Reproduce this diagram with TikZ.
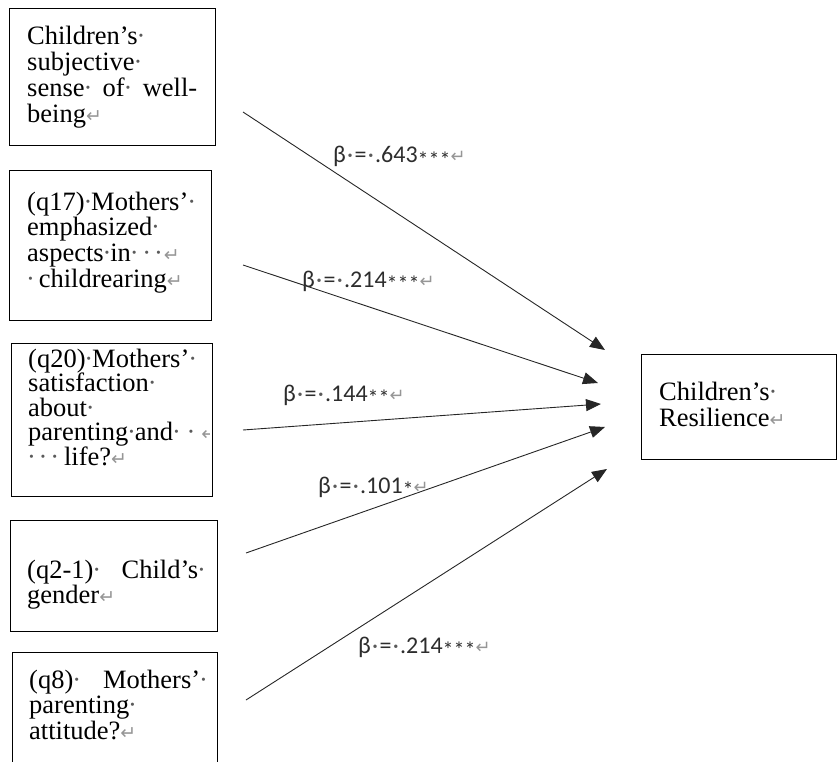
\documentclass[tikz,border=0pt]{standalone}
\usepackage{fontspec}
\setmainfont{Liberation Serif}
\newfontfamily\labelfont{Carlito}
\newfontfamily\symfont{DejaVu Sans}
\usetikzlibrary{arrows.meta}

\definecolor{markgray}{RGB}{150,150,150}
\definecolor{dotgray}{RGB}{90,90,90}
\definecolor{labelink}{RGB}{45,45,45}

% visible space and paragraph marks
\newcommand\wsp{\makebox[0.25em]{\textcolor{dotgray}{·}}}
\newcommand\pmark{\textcolor{markgray}{\symfont\fontsize{19}{19}\selectfont ↵}}
\newcommand\lsp{\makebox[0.36em]{\textcolor{dotgray}{·}}}
\newcommand\lpmark{\textcolor{markgray}{\symfont\fontsize{18}{18}\selectfont ↵}}
\newcommand\sigstars[1]{\raisebox{-4.5pt}{\fontsize{22}{22}\selectfont #1}}

\newcommand\boxtext[2]{\parbox[t]{260pt}{\fontsize{26.5}{#1}\selectfont #2}}

\begin{document}
\begin{tikzpicture}[x=1pt,y=-1pt,
  varbox/.style={draw=black, line width=1.4pt, rectangle, anchor=north west, inner sep=0pt},
  boxtxt/.style={anchor=base west, inner sep=0pt},
  beta/.style={anchor=base west, inner sep=0pt, text=labelink, font=\labelfont\fontsize{24}{24}\selectfont},
  path/.style={-{Triangle[length=15pt,width=12pt]}, line width=0.9pt, draw=black!85}]

\useasboundingbox (0,0) rectangle (837,762);
\clip (0,0) rectangle (837,762);

% predictor boxes
\node[varbox, minimum width=206pt, minimum height=137pt] (b1) at (9,8) {};
\node[varbox, minimum width=202pt, minimum height=150pt] (b2) at (9,170) {};
\node[varbox, minimum width=201pt, minimum height=153pt] (b3) at (11,343) {};
\node[varbox, minimum width=207pt, minimum height=111pt] (b4) at (10,520) {};
\node[varbox, minimum width=205pt, minimum height=130pt] (b5) at (12,652) {};

% outcome box
\node[varbox, minimum width=195pt, minimum height=105pt] (out) at (641,354) {};

% box texts
\node[boxtxt] (t1) at (27,45) {\boxtext{25.7}{%
Children’s\wsp\\
subjective\wsp\\
\makebox[170pt][l]{sense\wsp\hfill of\wsp\hfill well-}\\
being\pmark}};

\node[boxtxt] (t2) at (27,210) {\boxtext{25.7}{%
(q17)\wsp Mothers’\wsp\\
emphasized\wsp\\
aspects\wsp in\wsp\hspace{6pt}\wsp\hspace{5pt}\wsp\hspace{2pt}\pmark\\
\hspace{2pt}\wsp\hspace{5pt}childrearing\pmark}};

\begin{scope}
\clip (11,343) rectangle (209,496);
\node[boxtxt] (t3) at (28,367) {\boxtext{24.6}{%
(q20)\wsp Mothers’\wsp\\
satisfaction\wsp\\
about\wsp\\
parenting\wsp and\wsp\hspace{8pt}\wsp\hspace{7pt}\pmark\\
\hspace{2pt}\wsp\hspace{5pt}\wsp\hspace{5pt}\wsp\hspace{6pt}life?\pmark}};
\end{scope}

\node[boxtxt] (t4) at (27,578) {\boxtext{25.5}{%
\makebox[171pt][l]{(q2-1)\wsp\hfill Child’s}\wsp\\
gender\pmark}};

\node[boxtxt] (t5) at (29,688) {\boxtext{25.5}{%
\makebox[171pt][l]{(q8)\wsp\hfill Mothers’}\wsp\\
parenting\wsp\\
attitude?\pmark}};

\node[boxtxt] (tout) at (659,400) {\boxtext{26.7}{%
Children’s\wsp\\
Resilience\pmark}};

% path ends
\coordinate (s1) at (243,112);
\coordinate (s2) at (243,265);
\coordinate (s3) at (243,430);
\coordinate (s4) at (246,553);
\coordinate (s5) at (246,700);
\coordinate (e1) at (605,350);
\coordinate (e2) at (598,383);
\coordinate (e3) at (601,404);
\coordinate (e4) at (605,427);
\coordinate (e5) at (607,469);

\draw[path] (s1) -- (e1);
\draw[path] (s2) -- (e2);
\draw[path] (s3) -- (e3);
\draw[path] (s4) -- (e4);
\draw[path] (s5) -- (e5);

% standardized coefficients
\node[beta] (l1) at (333,163) {β\lsp=\lsp.643\sigstars{***}\lpmark};
\node[beta] (l2) at (302,287) {β\lsp=\lsp.214\sigstars{***}\lpmark};
\node[beta] (l3) at (283,401) {β\lsp=\lsp.144\sigstars{**}\lpmark};
\node[beta] (l4) at (318,493) {β\lsp=\lsp.101\sigstars{*}\lpmark};
\node[beta] (l5) at (358,653) {β\lsp=\lsp.214\sigstars{***}\lpmark};

\end{tikzpicture}
\end{document}
